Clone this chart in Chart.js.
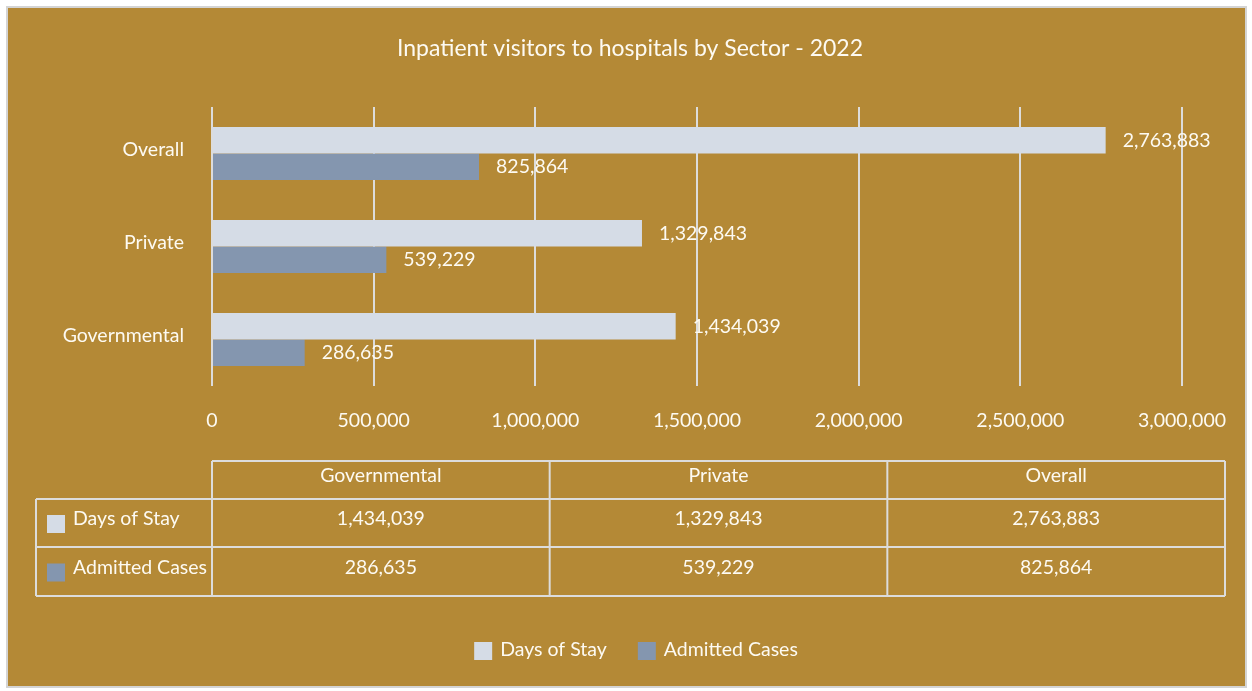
<!DOCTYPE html>
<html>
<head>
<meta charset="utf-8">
<script src="https://cdn.jsdelivr.net/npm/chart.js@4"></script>
<style>
  html, body { margin: 0; padding: 0; background: #ffffff; }
  #chart { display: block; }
</style>
</head>
<body>
<canvas id="chart" width="1252" height="691"></canvas>
<script>
// data
var sectors = ["Governmental", "Private", "Overall"];
var daysOfStay = [1434039, 1329843, 2763883];
var admittedCases = [286635, 539229, 825864];
var seriesNames = ["Days of Stay", "Admitted Cases"];
var chartTitle = "Inpatient visitors to hospitals by Sector - 2022";

// colours
var bgColor = "#b48936",
    frameColor = "#d4d4d4",
    lineColor = "#dcdcdc",
    textColor = "#fdfaf2",
    daysColor = "#d5dce6",
    admittedColor = "#8496af";

var fontFamily = "Lato, 'Open Sans', sans-serif";
var fontSize = 19.5;

function fmt(v) {
    return v.toLocaleString("en-US");
}

// background, frame and title
var backgroundPlugin = {
    id: "background",
    beforeDraw: function (chart) {
        var ctx = chart.ctx;
        ctx.save();
        ctx.fillStyle = "#ffffff";
        ctx.fillRect(0, 0, chart.width, chart.height);
        ctx.fillStyle = bgColor;
        ctx.fillRect(7, 7, chart.width - 13, chart.height - 11);
        ctx.strokeStyle = frameColor;
        ctx.lineWidth = 2;
        ctx.strokeRect(7, 7, chart.width - 13, chart.height - 11);
        // title sits a bit right of centre, like the original
        ctx.font = "23px " + fontFamily;
        ctx.fillStyle = textColor;
        ctx.textAlign = "center";
        ctx.textBaseline = "middle";
        ctx.fillText(chartTitle, 630, 49);
        ctx.restore();
    }
};

// value labels next to bars
var valueLabels = {
    id: "valueLabels",
    afterDatasetsDraw: function (chart) {
        var ctx = chart.ctx;
        ctx.save();
        ctx.font = fontSize + "px " + fontFamily;
        ctx.fillStyle = textColor;
        ctx.textAlign = "left";
        ctx.textBaseline = "middle";
        chart.data.datasets.forEach(function (ds, i) {
            var meta = chart.getDatasetMeta(i);
            meta.data.forEach(function (bar, j) {
                ctx.fillText(fmt(ds.data[j]), bar.x + 17, bar.y);
            });
        });
        ctx.restore();
    }
};

// data table under the axis, and the legend
var dataTable = {
    id: "dataTable",
    afterDraw: function (chart) {
        var ctx = chart.ctx;
        var left = 36, colStart = chart.chartArea.left, right = 1225;
        var rows = [461, 499, 547, 596];
        var colW = (right - colStart) / sectors.length;
        var keys = [daysColor, admittedColor];
        ctx.save();
        ctx.strokeStyle = lineColor;
        ctx.lineWidth = 2;
        ctx.beginPath();
        ctx.moveTo(colStart, rows[0]); ctx.lineTo(right, rows[0]);
        for (var r = 1; r < rows.length; r++) {
            ctx.moveTo(left, rows[r]); ctx.lineTo(right, rows[r]);
        }
        ctx.moveTo(left, rows[1]); ctx.lineTo(left, rows[3]);
        for (var c = 0; c <= sectors.length; c++) {
            var x = colStart + c * colW;
            ctx.moveTo(x, rows[0]); ctx.lineTo(x, rows[3]);
        }
        ctx.stroke();

        ctx.font = fontSize + "px " + fontFamily;
        ctx.fillStyle = textColor;
        ctx.textBaseline = "middle";
        ctx.textAlign = "center";
        sectors.forEach(function (s, i) {
            var cx = colStart + colW * (i + 0.5);
            ctx.fillText(s, cx, (rows[0] + rows[1]) / 2 - 4);
            ctx.fillText(fmt(daysOfStay[i]), cx, (rows[1] + rows[2]) / 2 - 4);
            ctx.fillText(fmt(admittedCases[i]), cx, (rows[2] + rows[3]) / 2 - 4);
        });
        ctx.textAlign = "left";
        seriesNames.forEach(function (name, i) {
            var cy = (rows[i + 1] + rows[i + 2]) / 2;
            ctx.fillStyle = keys[i];
            ctx.fillRect(47, cy - 8, 18, 18);
            ctx.fillStyle = textColor;
            ctx.fillText(name, 73, cy - 4);
        });

        // legend
        var widths = seriesNames.map(function (n) { return 26 + ctx.measureText(n).width; });
        var total = widths[0] + widths[1] + 31;
        var lx = 636 - total / 2, ly = 650;
        seriesNames.forEach(function (name, i) {
            ctx.fillStyle = keys[i];
            ctx.fillRect(lx, ly - 8, 18, 18);
            ctx.fillStyle = textColor;
            ctx.fillText(name, lx + 26, ly);
            lx += widths[i] + 31;
        });
        ctx.restore();
    }
};

new Chart(document.getElementById("chart"), {
    type: "bar",
    data: {
        labels: sectors,
        datasets: [{
            label: seriesNames[0],
            data: daysOfStay,
            backgroundColor: daysColor,
            categoryPercentage: 0.57,
            barPercentage: 1.0
        }, {
            label: seriesNames[1],
            data: admittedCases,
            backgroundColor: admittedColor,
            categoryPercentage: 0.57,
            barPercentage: 1.0
        }]
    },
    options: {
        indexAxis: "y",
        responsive: false,
        animation: false,
        layout: {
            padding: { left: 8, right: 70, top: 107, bottom: 20 }
        },
        scales: {
            x: {
                min: 0,
                max: 3000000,
                ticks: {
                    stepSize: 500000,
                    color: textColor,
                    font: { family: fontFamily, size: fontSize },
                    padding: 23,
                    callback: function (v) { return fmt(v); }
                },
                grid: { color: lineColor, lineWidth: 2, drawTicks: false },
                border: { display: false },
                afterFit: function (scale) { scale.height = 285; }
            },
            y: {
                reverse: true,
                ticks: {
                    color: textColor,
                    font: { family: fontFamily, size: fontSize },
                    padding: 28,
                    labelOffset: -4
                },
                grid: { display: false, drawTicks: false },
                border: { display: false },
                afterFit: function (scale) { scale.width = 204; }
            }
        },
        plugins: {
            title: { display: false },
            legend: { display: false },
            tooltip: { enabled: false }
        }
    },
    plugins: [backgroundPlugin, valueLabels, dataTable]
});
</script>
</body>
</html>
